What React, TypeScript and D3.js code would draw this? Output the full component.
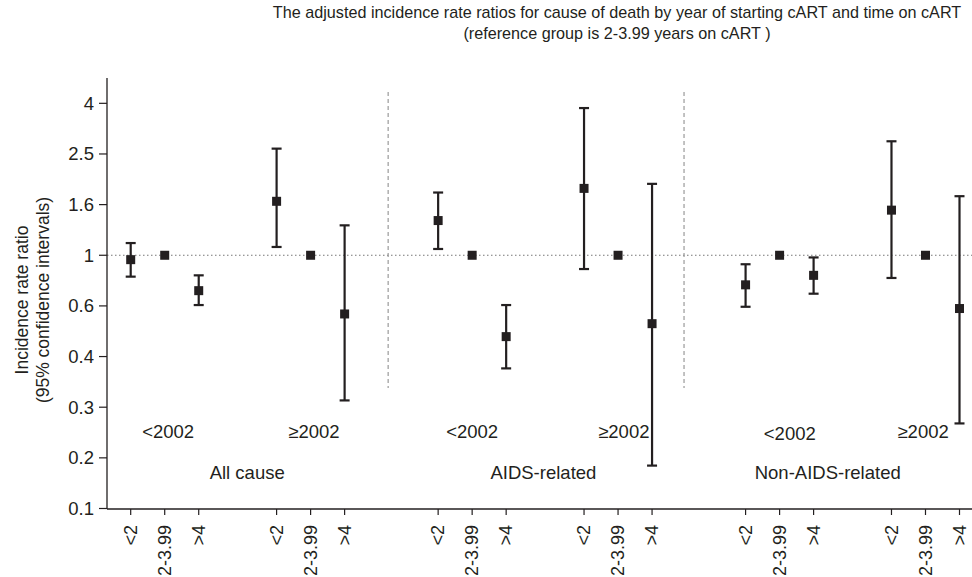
import { useEffect, useRef } from "react";
import * as d3 from "d3";

const causes = ["All cause", "AIDS-related", "Non-AIDS-related"];
const periods = ["<2002", "≥2002"];
const times = ["<2", "2-3.99", ">4"];

// order per cause: <2002 (<2, 2-3.99, >4), then ≥2002 (<2, 2-3.99, >4)
const allCauseIrr = [0.96, 1, 0.72, 1.65, 1, 0.58];
const allCauseLow = [0.82, null, 0.63, 1.08, null, 0.26];
const allCauseHigh = [1.12, null, 0.83, 2.69, null, 1.32];

const aidsIrr = [1.38, 1, 0.47, 1.86, 1, 0.53];
const aidsLow = [1.06, null, 0.35, 0.88, null, 0.142];
const aidsHigh = [1.79, null, 0.63, 3.92, null, 1.94];

const nonAidsIrr = [0.76, 1, 0.83, 1.52, 1, 0.61];
const nonAidsLow = [0.62, null, 0.7, 0.81, null, 0.21];
const nonAidsHigh = [0.92, null, 0.98, 2.88, null, 1.73];

// axis ticks sit on powers of 1.6, labelled as in the source
const yTickPowers = [-5, -4, -3, -2, -1, 0, 1, 2, 3];
const yTickLabels = ["0.1", "0.2", "0.3", "0.4", "0.6", "1", "1.6", "2.5", "4"];

const seriesByCause = [
  { irr: allCauseIrr, low: allCauseLow, high: allCauseHigh },
  { irr: aidsIrr, low: aidsLow, high: aidsHigh },
  { irr: nonAidsIrr, low: nonAidsLow, high: nonAidsHigh },
];

const WIDTH = 972;
const HEIGHT = 577;
const FONT = "'Liberation Sans', Arial, Helvetica, sans-serif";

// slot units along x: one unit between neighbouring ticks
const groupStep = 9.04;
const periodStep = 4.29;
const separatorSlots = [7.57, 16.27];
// small nudges (in slot units) for the group captions, as placed in the source
const causeLabelShift = [0.28, -0.05, -0.73];
const periodLabelShift = [0.1, 0.1, 0, 0.17, 0.3, -0.07];

const slotOf = (g, p, t) => g * groupStep + p * periodStep + t;

export default function App() {
  const svgRef = useRef(null);

  useEffect(() => {
    document.body.style.margin = "0";
    if (!svgRef.current) return;

    const axisX = 107;
    const axisBottom = 509;
    const axisTop = 78;
    const labelSize = 18.5;

    const x = d3.scaleLinear().domain([0, slotOf(2, 1, 2)]).range([130.7, 959.5]);
    const y = d3
      .scaleLog()
      .base(1.6)
      .domain([Math.pow(1.6, -5.01), Math.pow(1.6, 3.5)])
      .range([axisBottom, axisTop]);

    const svg = d3.select(svgRef.current);
    svg.selectAll("*").remove();
    svg.attr("width", WIDTH).attr("height", HEIGHT).style("background", "#fff");

    const ink = "#231f20";

    // title
    const title = svg
      .append("text")
      .attr("font-family", FONT)
      .attr("font-size", 16.2)
      .attr("fill", ink)
      .attr("text-anchor", "middle");
    title
      .append("tspan")
      .attr("x", 617)
      .attr("y", 18)
      .text("The adjusted incidence rate ratios for cause of death by year of starting cART and time on cART");
    title.append("tspan").attr("x", 617).attr("y", 39).text("(reference group is 2-3.99 years on cART )");

    // y label
    const yl = svg
      .append("text")
      .attr("transform", `translate(22,300) rotate(-90)`)
      .attr("font-family", FONT)
      .attr("font-size", 17.5)
      .attr("fill", ink)
      .attr("text-anchor", "middle");
    yl.append("tspan").attr("x", 0).attr("y", 6).text("Incidence rate ratio");
    yl.append("tspan").attr("x", 0).attr("y", 27).text("(95% confidence intervals)");

    // reference line at 1
    svg
      .append("line")
      .attr("x1", axisX)
      .attr("x2", WIDTH)
      .attr("y1", y(1))
      .attr("y2", y(1))
      .attr("stroke", "#777")
      .attr("stroke-width", 1.2)
      .attr("stroke-dasharray", "1.5,2.5");

    // separators
    svg
      .append("g")
      .selectAll("line")
      .data(separatorSlots)
      .join("line")
      .attr("x1", (s) => x(s))
      .attr("x2", (s) => x(s))
      .attr("y1", 92)
      .attr("y2", 388)
      .attr("stroke", "#9a9a9a")
      .attr("stroke-width", 1.2)
      .attr("stroke-dasharray", "4,3");

    // y axis
    const yAxis = svg.append("g");
    yAxis
      .append("line")
      .attr("x1", axisX)
      .attr("x2", axisX)
      .attr("y1", axisTop)
      .attr("y2", axisBottom)
      .attr("stroke", ink)
      .attr("stroke-width", 1.3);
    yAxis
      .selectAll("line.tick")
      .data(yTickPowers)
      .join("line")
      .attr("class", "tick")
      .attr("x1", axisX - 8)
      .attr("x2", axisX)
      .attr("y1", (k) => y(Math.pow(1.6, k)))
      .attr("y2", (k) => y(Math.pow(1.6, k)))
      .attr("stroke", ink)
      .attr("stroke-width", 1.2);
    yAxis
      .selectAll("text")
      .data(yTickPowers)
      .join("text")
      .attr("x", axisX - 13)
      .attr("y", (k) => y(Math.pow(1.6, k)))
      .attr("dy", "0.35em")
      .attr("text-anchor", "end")
      .attr("font-family", FONT)
      .attr("font-size", labelSize)
      .attr("fill", ink)
      .text((_, i) => yTickLabels[i]);

    // x axis
    const xTicks = [];
    causes.forEach((_, g) =>
      periods.forEach((_, p) => times.forEach((label, t) => xTicks.push({ slot: slotOf(g, p, t), label })))
    );
    const xAxis = svg.append("g");
    xAxis
      .append("line")
      .attr("x1", axisX)
      .attr("x2", WIDTH)
      .attr("y1", axisBottom)
      .attr("y2", axisBottom)
      .attr("stroke", ink)
      .attr("stroke-width", 1.3);
    xAxis
      .selectAll("line.tick")
      .data(xTicks)
      .join("line")
      .attr("class", "tick")
      .attr("x1", (d) => x(d.slot))
      .attr("x2", (d) => x(d.slot))
      .attr("y1", axisBottom)
      .attr("y2", axisBottom + 6)
      .attr("stroke", ink)
      .attr("stroke-width", 1.2);
    xAxis
      .selectAll("text")
      .data(xTicks)
      .join("text")
      .attr("transform", (d) => `translate(${x(d.slot)},${axisBottom + 16}) rotate(-90)`)
      .attr("dy", "0.35em")
      .attr("text-anchor", "end")
      .attr("font-family", FONT)
      .attr("font-size", 18)
      .attr("fill", ink)
      .text((d) => d.label);

    // period and cause labels
    const periodLabels = [];
    causes.forEach((_, g) => periods.forEach((label, p) => periodLabels.push({ slot: slotOf(g, p, 1), label })));
    svg
      .append("g")
      .selectAll("text")
      .data(periodLabels)
      .join("text")
      .attr("x", (d, i) => x(d.slot + periodLabelShift[i]))
      .attr("y", (_, i) => (i === 4 ? 440 : 438))
      .attr("text-anchor", "middle")
      .attr("font-family", FONT)
      .attr("font-size", labelSize)
      .attr("fill", ink)
      .text((d) => d.label);
    svg
      .append("g")
      .selectAll("text")
      .data(causes)
      .join("text")
      .attr("x", (_, g) => x(slotOf(g, 0, 0) + (slotOf(g, 1, 2) - slotOf(g, 0, 0)) / 2 + causeLabelShift[g]))
      .attr("y", 479)
      .attr("text-anchor", "middle")
      .attr("font-family", FONT)
      .attr("font-size", labelSize)
      .attr("fill", ink)
      .text((d) => d);

    // points
    const points = [];
    seriesByCause.forEach((s, g) =>
      s.irr.forEach((v, i) => {
        const p = Math.floor(i / 3);
        const t = i % 3;
        points.push({ slot: slotOf(g, p, t), irr: v, low: s.low[i], high: s.high[i] });
      })
    );
    const withCi = points.filter((d) => d.low != null && d.high != null);
    const cap = 5;
    const ci = svg.append("g").attr("stroke", ink).attr("stroke-width", 2.2);
    ci.selectAll("line.whisker")
      .data(withCi)
      .join("line")
      .attr("class", "whisker")
      .attr("x1", (d) => x(d.slot))
      .attr("x2", (d) => x(d.slot))
      .attr("y1", (d) => y(d.high))
      .attr("y2", (d) => y(d.low));
    ci.selectAll("line.cap-hi")
      .data(withCi)
      .join("line")
      .attr("class", "cap-hi")
      .attr("x1", (d) => x(d.slot) - cap)
      .attr("x2", (d) => x(d.slot) + cap)
      .attr("y1", (d) => y(d.high))
      .attr("y2", (d) => y(d.high));
    ci.selectAll("line.cap-lo")
      .data(withCi)
      .join("line")
      .attr("class", "cap-lo")
      .attr("x1", (d) => x(d.slot) - cap)
      .attr("x2", (d) => x(d.slot) + cap)
      .attr("y1", (d) => y(d.low))
      .attr("y2", (d) => y(d.low));

    const size = 9;
    svg
      .append("g")
      .selectAll("rect")
      .data(points)
      .join("rect")
      .attr("x", (d) => x(d.slot) - size / 2)
      .attr("y", (d) => y(d.irr) - size / 2)
      .attr("width", size)
      .attr("height", size)
      .attr("fill", ink);
  }, []);

  return <svg ref={svgRef} style={{ display: "block" }} />;
}
